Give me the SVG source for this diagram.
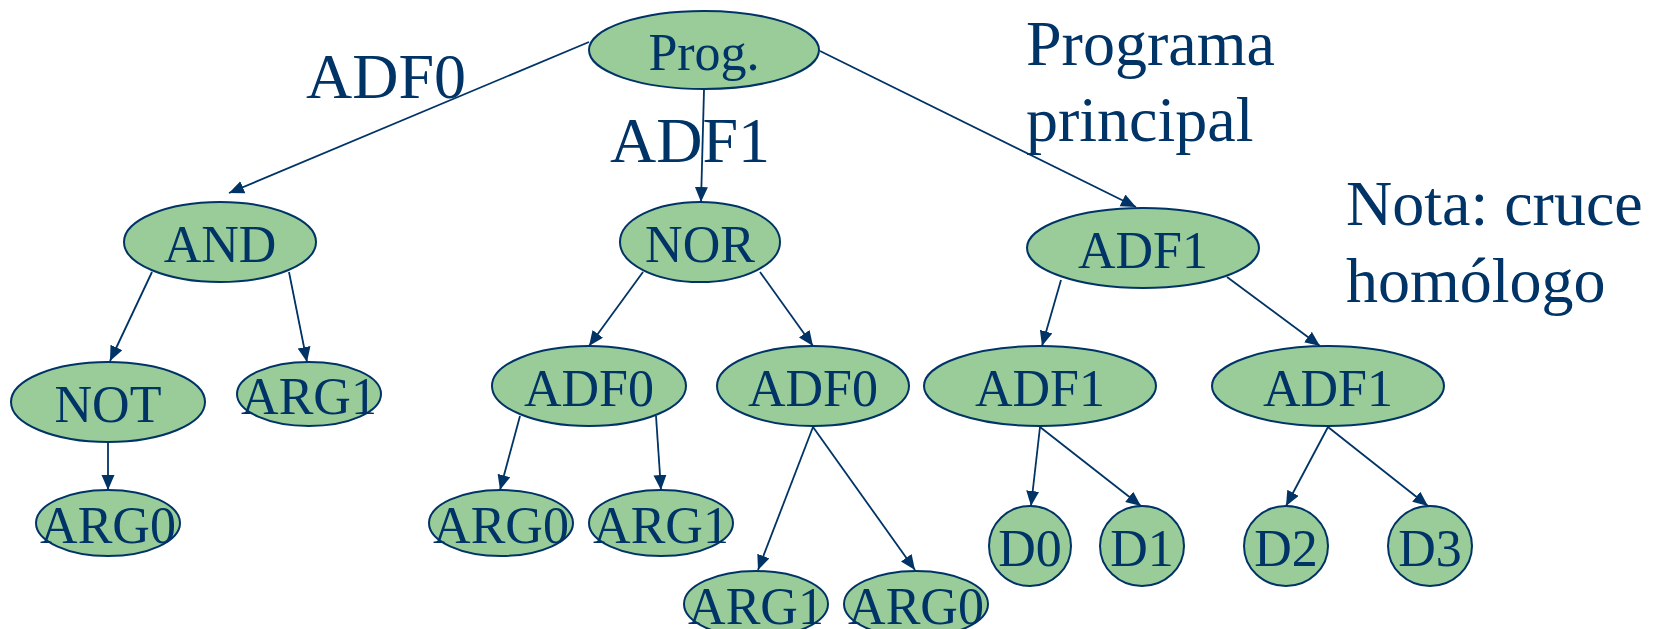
<svg xmlns="http://www.w3.org/2000/svg" width="1660" height="629" viewBox="0 0 1660 629">
  <defs>
    <style>
      .node ellipse { fill: #99CC99; stroke: #003366; stroke-width: 2; }
      .node text { font-family: "Liberation Serif", "Times New Roman", serif; font-size: 52px; fill: #003366; text-anchor: middle; }
      .edge { stroke: #003366; stroke-width: 1.8; fill: none; marker-end: url(#arrow); }
      .label { font-family: "Liberation Serif", "Times New Roman", serif; font-size: 64px; fill: #003366; }
    </style>
    <marker id="arrow" markerUnits="userSpaceOnUse" markerWidth="16" markerHeight="14" refX="15" refY="6.5" orient="auto">
      <path d="M0,0 L15,6.5 L0,13 Z" fill="#003366"/>
    </marker>
  </defs>

  <rect width="1660" height="629" fill="#ffffff"/>

  <!-- free-standing labels -->
  <text class="label" x="306" y="98">ADF0</text>
  <text class="label" x="1026" y="65">Programa</text>
  <text class="label" x="1026" y="141">principal</text>
  <text class="label" x="1346" y="225">Nota: cruce</text>
  <text class="label" x="1346" y="302">homólogo</text>

  <!-- tree nodes -->
  <g id="prog" class="node"><ellipse cx="704" cy="50" rx="115" ry="39"/><text x="704" y="70">Prog.</text></g>
  <g id="and" class="node"><ellipse cx="220" cy="242" rx="96" ry="40"/><text x="220" y="262">AND</text></g>
  <g id="nor" class="node"><ellipse cx="700" cy="242" rx="80" ry="40"/><text x="700" y="262">NOR</text></g>
  <g id="adf1-main" class="node"><ellipse cx="1143" cy="248" rx="116" ry="40"/><text x="1143" y="268">ADF1</text></g>

  <g id="not" class="node"><ellipse cx="108" cy="402" rx="97" ry="40"/><text x="108" y="422">NOT</text></g>
  <g id="arg1-and" class="node"><ellipse cx="309" cy="394" rx="72" ry="32"/><text x="309" y="414">ARG1</text></g>
  <g id="adf0-a" class="node"><ellipse cx="589" cy="386" rx="97" ry="40"/><text x="589" y="406">ADF0</text></g>
  <g id="adf0-b" class="node"><ellipse cx="813" cy="386" rx="96" ry="40"/><text x="813" y="406">ADF0</text></g>
  <g id="adf1-a" class="node"><ellipse cx="1040" cy="386" rx="116" ry="40"/><text x="1040" y="406">ADF1</text></g>
  <g id="adf1-b" class="node"><ellipse cx="1328" cy="386" rx="116" ry="40"/><text x="1328" y="406">ADF1</text></g>

  <g id="arg0-not" class="node"><ellipse cx="108" cy="523" rx="72" ry="33"/><text x="108" y="543">ARG0</text></g>
  <g id="arg0-a" class="node"><ellipse cx="501" cy="523" rx="72" ry="33"/><text x="501" y="543">ARG0</text></g>
  <g id="arg1-a" class="node"><ellipse cx="661" cy="523" rx="72" ry="33"/><text x="661" y="543">ARG1</text></g>
  <g id="arg1-b" class="node"><ellipse cx="756" cy="604" rx="72" ry="33"/><text x="756" y="624">ARG1</text></g>
  <g id="arg0-b" class="node"><ellipse cx="916" cy="604" rx="72" ry="33"/><text x="916" y="624">ARG0</text></g>

  <g id="d0" class="node"><ellipse cx="1030" cy="546" rx="41" ry="40"/><text x="1030" y="566">D0</text></g>
  <g id="d1" class="node"><ellipse cx="1142" cy="546" rx="42" ry="40"/><text x="1142" y="566">D1</text></g>
  <g id="d2" class="node"><ellipse cx="1286" cy="546" rx="42" ry="40"/><text x="1286" y="566">D2</text></g>
  <g id="d3" class="node"><ellipse cx="1430" cy="546" rx="42" ry="40"/><text x="1430" y="566">D3</text></g>

  <!-- connectors -->
  <g id="edges">
    <line class="edge" x1="589" y1="42" x2="229" y2="193"/>
    <line class="edge" x1="704" y1="90" x2="701" y2="202"/>
    <line class="edge" x1="820" y1="51" x2="1136" y2="207"/>
    <line class="edge" x1="152" y1="272" x2="110" y2="361"/>
    <line class="edge" x1="289" y1="272" x2="307" y2="362"/>
    <line class="edge" x1="108" y1="443" x2="108" y2="490"/>
    <line class="edge" x1="643" y1="272" x2="589" y2="346"/>
    <line class="edge" x1="760" y1="272" x2="813" y2="346"/>
    <line class="edge" x1="520" y1="416" x2="500" y2="490"/>
    <line class="edge" x1="656" y1="416" x2="661" y2="490"/>
    <line class="edge" x1="813" y1="427" x2="758" y2="570"/>
    <line class="edge" x1="813" y1="427" x2="915" y2="570"/>
    <line class="edge" x1="1061" y1="280" x2="1042" y2="346"/>
    <line class="edge" x1="1227" y1="277" x2="1320" y2="346"/>
    <line class="edge" x1="1040" y1="427" x2="1031" y2="506"/>
    <line class="edge" x1="1040" y1="427" x2="1141" y2="506"/>
    <line class="edge" x1="1328" y1="427" x2="1286" y2="506"/>
    <line class="edge" x1="1328" y1="427" x2="1428" y2="506"/>
  </g>

  <!-- edge label drawn over its connector -->
  <text class="label" x="610" y="162">ADF1</text>
</svg>
